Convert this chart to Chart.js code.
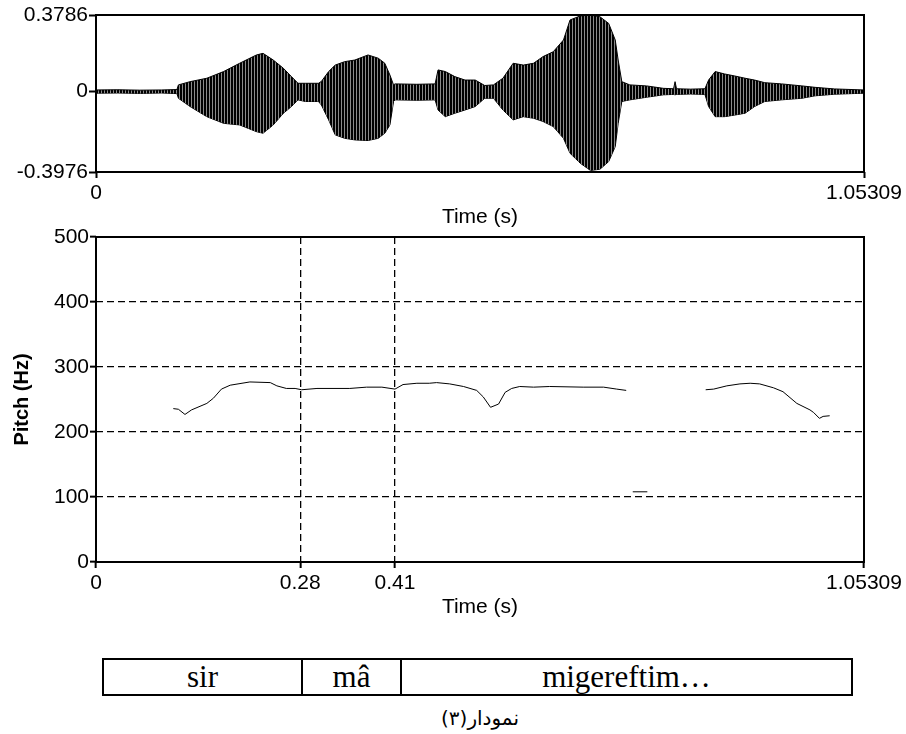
<!DOCTYPE html>
<html>
<head>
<meta charset="utf-8">
<script src="https://cdn.jsdelivr.net/npm/chart.js@4/dist/chart.umd.min.js"></script>
<style>
  body { margin: 0; background: #fff; }
  #page { position: relative; width: 906px; height: 734px; background: #fff; }
  .box { position: absolute; left: 0; width: 906px; }
  #wrapWave { top: 0; height: 232px; }
  #wrapPitch { top: 220px; height: 404px; }
  #segs { position: absolute; left: 102px; top: 658px; width: 751px; height: 38px; box-sizing: border-box;
          border: 2px solid #000; display: flex; font-family: "Liberation Serif", serif; font-size: 31px; }
  #segs div { text-align: center; line-height: 34px; box-sizing: border-box; }
  #caption { position: absolute; left: 380px; width: 200px; top: 706px; text-align: center;
             font-family: "DejaVu Sans", sans-serif; font-size: 20px; }
</style>
</head>
<body>
<div id="page">
  <div class="box" id="wrapWave"><canvas id="waveChart"></canvas></div>
  <div class="box" id="wrapPitch"><canvas id="pitchChart"></canvas></div>
  <div id="segs"></div>
  <div id="caption" dir="rtl">نمودار(۳)</div>
</div>
<script>
// waveform envelope (time in s, amplitude)
const waveTimes = [0, 0.03, 0.06, 0.09, 0.111, 0.113, 0.129, 0.152, 0.175, 0.197, 0.220, 0.229, 0.243, 0.257, 0.268, 0.277, 0.287, 0.305, 0.309, 0.319, 0.328, 0.341, 0.355, 0.373, 0.387, 0.396, 0.403, 0.408, 0.41, 0.44, 0.465, 0.469, 0.479, 0.492, 0.506, 0.520, 0.533, 0.545, 0.558, 0.572, 0.586, 0.600, 0.613, 0.627, 0.641, 0.650, 0.664, 0.678, 0.691, 0.703, 0.712, 0.716, 0.721, 0.732, 0.755, 0.778, 0.792, 0.794, 0.796, 0.815, 0.835, 0.840, 0.849, 0.862, 0.876, 0.890, 0.903, 0.917, 0.940, 0.968, 0.986, 1.013, 1.053];
const waveTop = [0.008, 0.009, 0.007, 0.008, 0.010, 0.033, 0.049, 0.066, 0.099, 0.140, 0.181, 0.189, 0.156, 0.115, 0.074, 0.041, 0.041, 0.041, 0.050, 0.099, 0.131, 0.148, 0.156, 0.181, 0.165, 0.140, 0.082, 0.033, 0.038, 0.036, 0.038, 0.107, 0.099, 0.074, 0.057, 0.057, 0.030, 0.033, 0.066, 0.140, 0.131, 0.140, 0.173, 0.197, 0.255, 0.354, 0.374, 0.378, 0.370, 0.337, 0.255, 0.156, 0.049, 0.033, 0.028, 0.016, 0.014, 0.049, 0.014, 0.012, 0.014, 0.057, 0.099, 0.087, 0.077, 0.066, 0.057, 0.044, 0.038, 0.028, 0.021, 0.013, 0.008];
const waveBottom = [-0.008, -0.007, -0.009, -0.007, -0.010, -0.033, -0.074, -0.124, -0.157, -0.165, -0.198, -0.206, -0.165, -0.107, -0.074, -0.041, -0.049, -0.049, -0.066, -0.140, -0.214, -0.231, -0.239, -0.242, -0.231, -0.206, -0.165, -0.049, -0.041, -0.043, -0.041, -0.091, -0.124, -0.107, -0.091, -0.074, -0.033, -0.033, -0.091, -0.140, -0.124, -0.132, -0.148, -0.173, -0.231, -0.305, -0.354, -0.390, -0.384, -0.346, -0.272, -0.157, -0.049, -0.041, -0.028, -0.016, -0.014, -0.016, -0.014, -0.012, -0.014, -0.074, -0.124, -0.124, -0.116, -0.107, -0.074, -0.049, -0.041, -0.033, -0.021, -0.013, -0.008];

// pitch track (null = unvoiced gap)
const pitchTimes = [0.106, 0.113, 0.122, 0.131, 0.152, 0.161, 0.172, 0.184, 0.211, 0.239, 0.248, 0.261, 0.273, 0.282, 0.303, 0.348, 0.371, 0.392, 0.410, 0.421, 0.440, 0.457, 0.467, 0.485, 0.504, 0.522, 0.531, 0.541, 0.552, 0.561, 0.570, 0.581, 0.600, 0.622, 0.668, 0.696, 0.714, 0.727, 0.731, 0.736, 0.756, 0.800, 0.836, 0.847, 0.865, 0.883, 0.897, 0.910, 0.929, 0.942, 0.961, 0.979, 0.984, 0.992, 0.997, 1.006];
const pitchHz = [236, 235, 227, 234, 244, 252, 266, 272, 277, 276, 271, 267, 267, 265, 267, 267, 269, 269, 266, 273, 275, 275, 276, 274, 270, 264, 254, 238, 243, 261, 267, 270, 269, 270, 269, 269, 266, 264, null, 108, 108, null, 265, 266, 271, 274, 275, 274, 268, 262, 244, 234, 230, 221, 224, 225];

const tEnd = 1.05309;
const waveTicksY = [-0.3976, 0, 0.3786];
const waveTicksX = [0, tEnd];
const pitchTicksY = [0, 100, 200, 300, 400, 500];
const pitchTicksX = [0, 0.28, 0.41, tEnd];
const syllables = ['sir', 'mâ', 'migereftim…'];
const syllableEdges = [0, 199, 298, 747];

const tickFont = { family: 'Liberation Sans', size: 21 };

// frame round the plot area
const framePlugin = {
    id: 'frame',
    afterDatasetsDraw(chart) {
        const a = chart.chartArea;
        const c = chart.ctx;
        c.save();
        c.strokeStyle = '#000';
        c.lineWidth = 2;
        c.strokeRect(a.left, a.top, a.right - a.left, a.bottom - a.top);
        c.restore();
    }
};

function fixTicks(list) {
    return function (scale) {
        scale.ticks = list.map(v => ({ value: v }));
    };
}

function label(v) {
    return String(v);
}

// stripe pattern to mimic the dense waveform
const pc = document.createElement('canvas');
pc.width = 3; pc.height = 1;
const pctx = pc.getContext('2d');
pctx.fillStyle = '#000';
pctx.fillRect(0, 0, 2, 1);
pctx.fillStyle = '#8a8a8a';
pctx.fillRect(2, 0, 1, 1);
const stripes = pctx.createPattern(pc, 'repeat');

let ctx = document.getElementById('waveChart').getContext('2d');
const waveChart = new Chart(ctx, {
    type: 'line',
    data: {
        datasets: [{
                data: waveTimes.map((t, i) => ({ x: t, y: waveTop[i] })),
                borderColor: '#000',
                borderWidth: 1,
                backgroundColor: stripes,
                fill: '+1',
                pointRadius: 0
            }, {
                data: waveTimes.map((t, i) => ({ x: t, y: waveBottom[i] })),
                borderColor: '#000',
                borderWidth: 1,
                fill: false,
                pointRadius: 0
            }]
    },
    options: {
        responsive: true,
        maintainAspectRatio: false,
        animation: false,
        layout: { padding: { left: 0, right: 42, top: 15, bottom: 0 } },
        plugins: { legend: { display: false }, tooltip: { enabled: false } },
        scales: {
            x: {
                type: 'linear',
                min: 0,
                max: tEnd,
                afterBuildTicks: fixTicks(waveTicksX),
                afterFit: s => { s.height = 60; },
                ticks: { font: tickFont, color: '#000', padding: 3, maxRotation: 0, autoSkip: false, callback: label },
                grid: { drawOnChartArea: false, tickLength: 6, tickColor: '#000', tickWidth: 2 },
                border: { display: false },
                title: { display: true, text: 'Time (s)', font: tickFont, color: '#000', padding: { top: 0, bottom: 2 } }
            },
            y: {
                min: -0.3976,
                max: 0.3786,
                afterBuildTicks: fixTicks(waveTicksY),
                afterFit: s => { s.width = 96; },
                ticks: { font: tickFont, color: '#000', padding: 1, autoSkip: false, callback: label },
                grid: { drawOnChartArea: false, tickLength: 7, tickColor: '#000', tickWidth: 2 },
                border: { display: false }
            }
        }
    },
    plugins: [framePlugin]
});

ctx = document.getElementById('pitchChart').getContext('2d');
const pitchChart = new Chart(ctx, {
    type: 'line',
    data: {
        datasets: [{
                data: pitchTimes.map((t, i) => ({ x: t, y: pitchHz[i] })),
                borderColor: '#000',
                borderWidth: 1,
                fill: false,
                spanGaps: false,
                pointRadius: 0
            }]
    },
    options: {
        responsive: true,
        maintainAspectRatio: false,
        animation: false,
        layout: { padding: { left: 0, right: 42, top: 17, bottom: 0 } },
        plugins: { legend: { display: false }, tooltip: { enabled: false } },
        scales: {
            x: {
                type: 'linear',
                min: 0,
                max: tEnd,
                afterBuildTicks: fixTicks(pitchTicksX),
                afterFit: s => { s.height = 62; },
                ticks: { font: tickFont, color: '#000', padding: 3, maxRotation: 0, autoSkip: false, callback: label },
                grid: {
                    // dashed only for the inner marks
                    color: c => (c.tick && c.tick.value > 0 && c.tick.value < tEnd) ? '#000' : 'rgba(0,0,0,0)',
                    lineWidth: 1.3,
                    tickLength: 6, tickColor: '#000', tickWidth: 2
                },
                border: { display: false, dash: [7, 4] },
                title: { display: true, text: 'Time (s)', font: tickFont, color: '#000', padding: { top: 0, bottom: 4 } }
            },
            y: {
                min: 0,
                max: 500,
                afterBuildTicks: fixTicks(pitchTicksY),
                afterFit: s => { s.width = 96; },
                ticks: { font: tickFont, color: '#000', padding: 1, autoSkip: false, callback: label },
                grid: {
                    color: c => (c.tick && c.tick.value > 0 && c.tick.value < 500) ? '#000' : 'rgba(0,0,0,0)',
                    lineWidth: 1.3,
                    tickLength: 6, tickColor: '#000', tickWidth: 2
                },
                border: { display: false, dash: [7, 4] },
                title: { display: true, text: 'Pitch (Hz)', font: { family: 'Liberation Sans', size: 20, weight: 'bold' }, color: '#000', padding: { top: 10, bottom: 0 } }
            }
        }
    },
    plugins: [framePlugin]
});

// syllable row under the pitch plot
const segs = document.getElementById('segs');
syllables.forEach((s, i) => {
    const d = document.createElement('div');
    d.textContent = s;
    d.style.width = (syllableEdges[i + 1] - syllableEdges[i]) + 'px';
    if (i < syllables.length - 1) d.style.borderRight = '2px solid #000';
    segs.appendChild(d);
});
</script>
</body>
</html>
